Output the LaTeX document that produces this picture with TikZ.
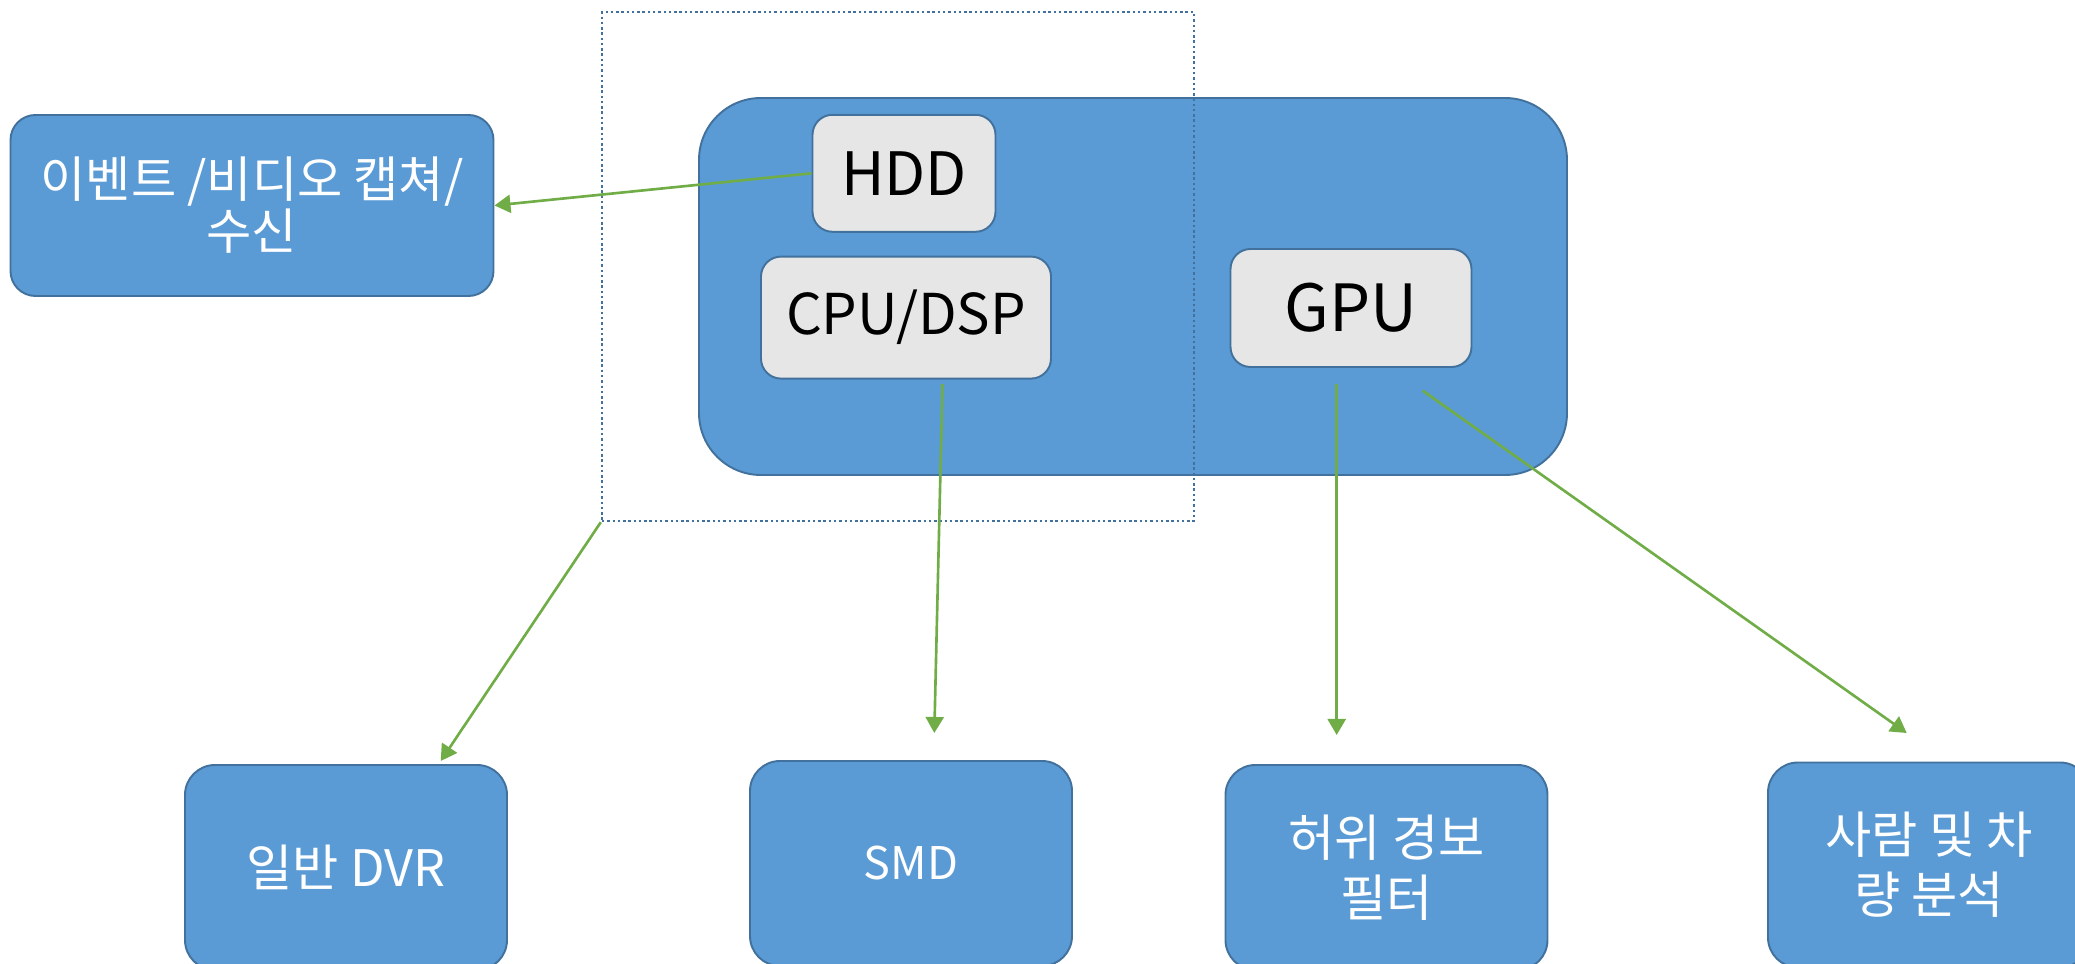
\documentclass[tikz,border=0pt]{standalone}
\usepackage{fontspec}
\setmainfont{Noto Sans CJK KR}
\usepackage{tikz}
\usetikzlibrary{calc,shapes,positioning}
\usetikzlibrary{arrows.meta}
\tikzset{>={Triangle[width=1.8mm,length=1.6mm]}}
\definecolor{boxblue}{HTML}{5B9BD5}
\definecolor{boxedge}{HTML}{41719C}
\definecolor{chipgray}{HTML}{E7E6E6}
\definecolor{flowgreen}{HTML}{70AD47}

\begin{document}
\begin{tikzpicture}
    \clip (0,0) rectangle (20.75,9.64);

    \tikzstyle{bnode} = [draw=boxedge, line width=0.55pt, fill=boxblue, text=white, rounded corners=3mm, align=center, inner sep=0pt]
    \tikzstyle{gnode} = [draw=boxedge, line width=0.55pt, fill=chipgray, text=black, rounded corners=2mm, align=center, inner sep=0pt]
    \tikzstyle{onode} = [bnode, minimum width=3.22cm, minimum height=2.05cm, font=\fontsize{14.3}{17}\selectfont]
    \tikzstyle{dnode} = [draw=boxedge, line width=0.7pt, dash pattern=on 0.7pt off 0.8pt, inner sep=0pt]
    \tikzstyle{flow} = [->, draw=flowgreen, line width=0.75pt]

    % capture box and recorder unit
    \node[bnode, minimum width=4.83cm, minimum height=1.81cm, rounded corners=2.5mm, font=\fontsize{14}{14.8}\selectfont] (evt) at (2.52,7.585) {이벤트 /비디오 캡쳐/\\수신};
    \node[bnode, minimum width=8.68cm, minimum height=3.77cm, rounded corners=6.2mm] (hub) at (11.33,6.775) {};

    \node[gnode, minimum width=1.83cm, minimum height=1.17cm, font=\fontsize{17}{20}\selectfont] (hdd) at (9.04,7.907) {HDD};
    \node[gnode, minimum width=2.90cm, minimum height=1.22cm, font=\fontsize{16}{20}\selectfont] (cpu) at (9.06,6.464) {CPU/DSP};
    \node[gnode, minimum width=2.41cm, minimum height=1.18cm, font=\fontsize{18.5}{22}\selectfont] (gpu) at (13.51,6.56) {GPU};

    % outputs
    \node[onode] (dvr) at (3.46,0.965) {일반 DVR};
    \node[onode, font=\fontsize{12.8}{15}\selectfont] (smd) at (9.11,1.005) {SMD};
    \node[onode] (flt) at (13.865,0.965) {허위 경보\\필터};
    \node[onode] (ana) at (19.29,0.99) {사람 및 차\\량 분석};

    \node[dnode, minimum width=5.92cm, minimum height=5.09cm] (grp) at (8.98,6.975) {};

    \coordinate (dvrin) at (4.407,2.03);
    \coordinate (cpuout) at (9.425,5.80);
    \coordinate (smdin) at (9.343,2.31);
    \coordinate (gpuout) at (13.367,5.80);
    \coordinate (fltin) at (13.367,2.29);
    \coordinate (gpuside) at (14.227,5.733);
    \coordinate (anain) at (19.067,2.31);

    % arrows
    \draw[flow] (hdd.west) -- (evt.east);
    \draw[flow] (grp.south west) -- (dvrin);
    \draw[flow] (cpuout) -- (smdin);
    \draw[flow] (gpuout) -- (fltin);
    \draw[flow] (gpuside) -- (anain);
\end{tikzpicture}
\end{document}
